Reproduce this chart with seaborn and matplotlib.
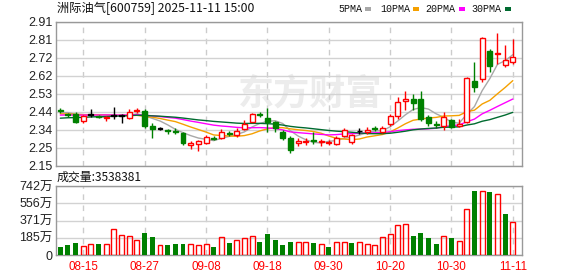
import matplotlib
matplotlib.use("Agg")
import matplotlib.pyplot as plt
from matplotlib.patches import Rectangle
import numpy as np
import pandas as pd
import seaborn as sns

# ---------------- data ----------------
title_text = "洲际油气[600759] 2025-11-11 15:00"
vol_label = "成交量:3538381"
watermark = "东方财富"

tick_pos = [3, 11, 19, 27, 35, 43, 51, 59]
tick_labels = ["08-15", "08-27", "09-08", "09-18", "09-30", "10-20", "10-30", "11-11"]

price_ticks = [2.15, 2.245, 2.34, 2.435, 2.53, 2.625, 2.72, 2.815, 2.91]
price_tick_labels = ["2.15", "2.25", "2.34", "2.44", "2.53", "2.62", "2.72", "2.81", "2.91"]
vol_ticks = [0, 185.5, 371, 556.5, 742]
vol_tick_labels = ["0", "185万", "371万", "556万", "742万"]

opens = [2.445, 2.425, 2.423, 2.39, 2.42, 2.415, 2.405, 2.415, 2.415, 2.405,
         2.44, 2.442, 2.36, 2.347, 2.34, 2.337, 2.323, 2.263, 2.265, 2.274,
         2.30, 2.297, 2.325, 2.315, 2.345, 2.384, 2.425, 2.405, 2.384, 2.33,
         2.30, 2.27, 2.275, 2.285, 2.275, 2.27, 2.265, 2.31, 2.275, 2.335,
         2.33, 2.35, 2.33, 2.373, 2.414, 2.494, 2.503, 2.503, 2.41, 2.37,
         2.361, 2.393, 2.36, 2.384, 2.598, 2.607, 2.758, 2.742, 2.682, 2.70]
highs = [2.455, 2.43, 2.435, 2.42, 2.45, 2.42, 2.415, 2.46, 2.425, 2.45,
         2.455, 2.45, 2.375, 2.355, 2.345, 2.35, 2.33, 2.28, 2.285, 2.314,
         2.31, 2.345, 2.335, 2.35, 2.393, 2.43, 2.435, 2.455, 2.39, 2.34,
         2.31, 2.30, 2.30, 2.33, 2.29, 2.285, 2.31, 2.35, 2.32, 2.35,
         2.355, 2.36, 2.36, 2.425, 2.512, 2.547, 2.53, 2.547, 2.42, 2.39,
         2.437, 2.40, 2.40, 2.62, 2.70, 2.831, 2.77, 2.85, 2.788, 2.818]
lows = [2.43, 2.41, 2.375, 2.377, 2.41, 2.405, 2.39, 2.40, 2.375, 2.40,
        2.43, 2.35, 2.297, 2.34, 2.32, 2.318, 2.26, 2.24, 2.23, 2.265,
        2.285, 2.29, 2.31, 2.305, 2.34, 2.38, 2.41, 2.33, 2.33, 2.285,
        2.22, 2.255, 2.26, 2.265, 2.255, 2.26, 2.26, 2.305, 2.265, 2.32,
        2.32, 2.335, 2.325, 2.36, 2.40, 2.445, 2.445, 2.39, 2.36, 2.35,
        2.34, 2.35, 2.355, 2.375, 2.54, 2.595, 2.647, 2.688, 2.673, 2.69]
closes = [2.44, 2.42, 2.384, 2.415, 2.42, 2.41, 2.41, 2.415, 2.415, 2.437,
          2.447, 2.36, 2.347, 2.347, 2.335, 2.33, 2.27, 2.27, 2.283, 2.302,
          2.295, 2.33, 2.32, 2.335, 2.37, 2.425, 2.42, 2.38, 2.35, 2.297,
          2.235, 2.28, 2.282, 2.28, 2.282, 2.277, 2.30, 2.34, 2.315, 2.335,
          2.338, 2.345, 2.35, 2.415, 2.489, 2.503, 2.484, 2.40, 2.376, 2.365,
          2.41, 2.358, 2.37, 2.612, 2.568, 2.828, 2.677, 2.747, 2.709, 2.726]
volumes = [89, 107, 132, 96, 118, 118, 118, 278, 211, 203,
           160, 239, 196, 107, 107, 118, 118, 118, 107, 118,
           82, 189, 132, 160, 178, 203, 143, 225, 160, 107,
           143, 143, 143, 132, 118, 89, 143, 143, 132, 143,
           118, 107, 196, 225, 321, 332, 203, 239, 185, 118,
           203, 185, 150, 500, 688, 685, 674, 653, 446, 353.84]
# closes before the visible window (estimated, only used for the moving averages)
prior_closes = [2.35, 2.36, 2.37, 2.36, 2.38, 2.37, 2.36, 2.38, 2.39, 2.38,
                2.40, 2.41, 2.40, 2.42, 2.41, 2.40, 2.42, 2.43, 2.41, 2.42,
                2.42, 2.41, 2.43, 2.42, 2.41, 2.42, 2.43, 2.42, 2.45]

ma_windows = [5, 10, 20, 30]
ma_names = ["5PMA", "10PMA", "20PMA", "30PMA"]
ma_colors = ["#a8a8a8", "#f5a000", "#ff00ff", "#006b30"]

RED = "#ff0000"
GREEN = "#008000"

# ---------------- frames ----------------
n = len(closes)
df = pd.DataFrame({"idx": np.arange(n), "open": opens, "high": highs,
                   "low": lows, "close": closes, "vol": volumes})
all_close = pd.Series(prior_closes + closes, dtype=float)
for w, name in zip(ma_windows, ma_names):
    df[name] = all_close.rolling(w).mean().iloc[len(prior_closes):].values
prev_close = all_close.shift(1).iloc[len(prior_closes):].values
df["vol_up"] = df["close"].values >= prev_close

ma_long = df.melt(id_vars="idx", value_vars=ma_names, var_name="ma", value_name="value")

# ---------------- figure ----------------
sns.set_theme(style="white")
plt.rcParams['font.family'] = ['Noto Sans CJK SC', 'DejaVu Sans']

W, H = 578, 276
fig = plt.figure(figsize=(W / 100, H / 100), dpi=100)
L, R = 56, 522
ax = fig.add_axes([L / W, 1 - 166 / H, (R - L) / W, 144 / H])
axv = fig.add_axes([L / W, 1 - 255 / H, (R - L) / W, 69 / H])

# watermark
ax.text(0.545, 0.5, watermark, transform=ax.transAxes, fontsize=26, fontweight="bold",
        color="#ececec", ha="center", va="center", zorder=0.5)

# moving averages
sns.lineplot(data=ma_long, x="idx", y="value", hue="ma", hue_order=ma_names,
             palette=ma_colors, ax=ax, legend=False, linewidth=1.0, zorder=2.5)

# candles
bw = 0.65
min_h = 0.004
for _, r in df.iterrows():
    o, c = r["open"], r["close"]
    if c > o:
        col, face = RED, "white"
    elif c < o:
        col, face = GREEN, GREEN
    else:
        col, face = "black", "black"
    ax.vlines(r["idx"], r["low"], r["high"], color=col, lw=1, zorder=3)
    bot = min(o, c)
    h = abs(c - o)
    if h < min_h:
        bot = (o + c) / 2 - min_h / 2
        h = min_h
        face = col
    ax.bar(r["idx"], h, bottom=bot, width=bw, facecolor=face, edgecolor=col,
           lw=1, zorder=4)

# volume bars
up = df[df["vol_up"]]
dn = df[~df["vol_up"]]
sns.barplot(x=dn["idx"], y=dn["vol"], native_scale=True, width=bw, color=GREEN,
            saturation=1, errorbar=None, ax=axv, linewidth=0, zorder=3)
sns.barplot(x=up["idx"], y=up["vol"], native_scale=True, width=bw, color=RED,
            saturation=1, errorbar=None, ax=axv, fill=False, linewidth=1, zorder=3)

# ---------------- axes styling ----------------
for a in (ax, axv):
    a.set_xlim(-0.56, 60.2)
    a.set_xticks(tick_pos)
    a.set_xlabel("")
    a.set_ylabel("")
    a.grid(axis="y", color="#d2d2d2", lw=1, ls="-", zorder=0)
    a.grid(axis="x", color="#cccccc", lw=1, ls=(0, (4, 4)), zorder=0)
    a.set_axisbelow(True)
    for s in a.spines.values():
        s.set_color("#999999")
        s.set_linewidth(1)
        s.set_visible(True)
    a.tick_params(length=0, pad=2.5, labelsize=9, colors="#222222")

ax.set_ylim(2.15, 2.91)
ax.set_yticks(price_ticks)
ax.set_yticklabels(price_tick_labels, family=["Liberation Sans", "Noto Sans CJK SC"])
ax.set_xticklabels([])

axv.set_ylim(0, 742)
axv.set_yticks(vol_ticks)
axv.set_yticklabels(vol_tick_labels, family=["Liberation Sans", "Noto Sans CJK SC"])
axv.set_xticklabels(tick_labels, family=["Liberation Sans"], fontsize=8.4, color=RED)
axv.tick_params(axis="x", pad=4)

# ---------------- texts ----------------
fig.text(57 / W, 1 - 8.5 / H, title_text, fontsize=8.8, color="#111111",
         ha="left", va="center")
fig.text(57 / W, 1 - 177.5 / H, vol_label, fontsize=8.6, color="#111111",
         ha="left", va="center")

leg_text_x = [338, 380, 425, 471.5]
leg_box_x = [365, 412.5, 459, 505]
for name, col, tx, bx in zip(ma_names, ma_colors, leg_text_x, leg_box_x):
    fig.text(tx / W, 1 - 9 / H, name, fontsize=7.2, family=["Liberation Mono"],
             color="#111111", ha="left", va="center")
    fig.add_artist(Rectangle((bx / W, 1 - 11 / H), 6 / W, 4 / H,
                             transform=fig.transFigure, facecolor=col,
                             edgecolor="none"))

fig.savefig("out.png", dpi=100)
